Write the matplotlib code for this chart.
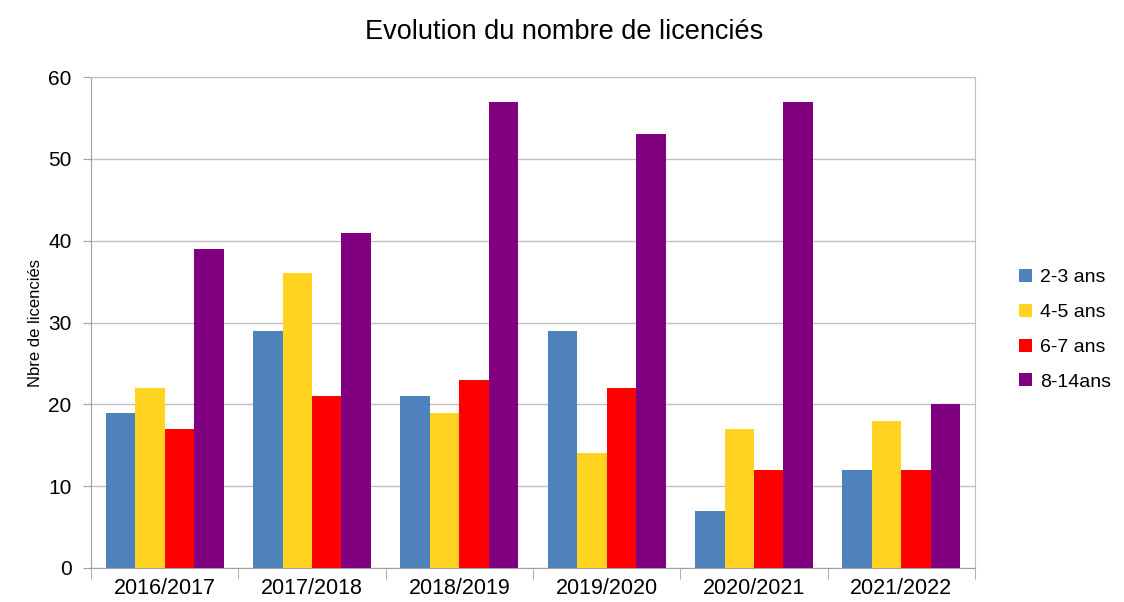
import matplotlib.pyplot as plt
import numpy as np

plt.rcParams['font.family'] = ['Liberation Sans', 'DejaVu Sans']

seasons = ['2016/2017', '2017/2018', '2018/2019', '2019/2020', '2020/2021', '2021/2022']
groups = ['2-3 ans', '4-5 ans', '6-7 ans', '8-14ans']
v_2_3 = [19, 29, 21, 29, 7, 12]
v_4_5 = [22, 36, 19, 14, 17, 18]
v_6_7 = [17, 21, 23, 22, 12, 12]
v_8_14 = [39, 41, 57, 53, 57, 20]
colors = ['#4f81bd', '#ffd320', '#ff0000', '#800080']

fig = plt.figure(figsize=(11.24, 6.02), dpi=100)
ax = fig.add_axes([0.081, 0.0565, 0.7864, 0.8155])

x = np.arange(len(seasons))
w = 0.2
for i, (vals, lab, c) in enumerate(zip([v_2_3, v_4_5, v_6_7, v_8_14], groups, colors)):
    ax.bar(x + (i - 1.5) * w, vals, w, color=c, label=lab, zorder=3)

ax.set_xlim(-0.5, len(seasons) - 0.5)
ax.set_ylim(0, 60)
ax.set_yticks(range(0, 61, 10))
ax.tick_params(axis='y', labelsize=15, length=6, color='#a0a0a0', pad=8)
ax.set_xticks(x)
ax.set_xticklabels(seasons, fontsize=15.5)
ax.tick_params(axis='x', length=0, pad=7)
ax.set_xticks(np.arange(-0.5, len(seasons), 1), minor=True)
ax.tick_params(axis='x', which='minor', length=8, color='#a0a0a0')
ax.grid(axis='y', color='#c0c0c0', linewidth=1, zorder=0)
for s in ax.spines.values():
    s.set_color('#c0c0c0')
ax.spines['left'].set_color('#a0a0a0')
ax.spines['bottom'].set_color('#a0a0a0')

ax.set_ylabel('Nbre de licenciés', fontsize=12, labelpad=4)
fig.suptitle('Evolution du nombre de licenciés', fontsize=19.5, y=0.968, x=0.502)

ax.legend(loc='center left', bbox_to_anchor=(1.03, 0.485), frameon=False, fontsize=14,
          handlelength=0.65, handleheight=0.65, handletextpad=0.45, labelspacing=0.9)

fig.savefig('out.png', dpi=100)
